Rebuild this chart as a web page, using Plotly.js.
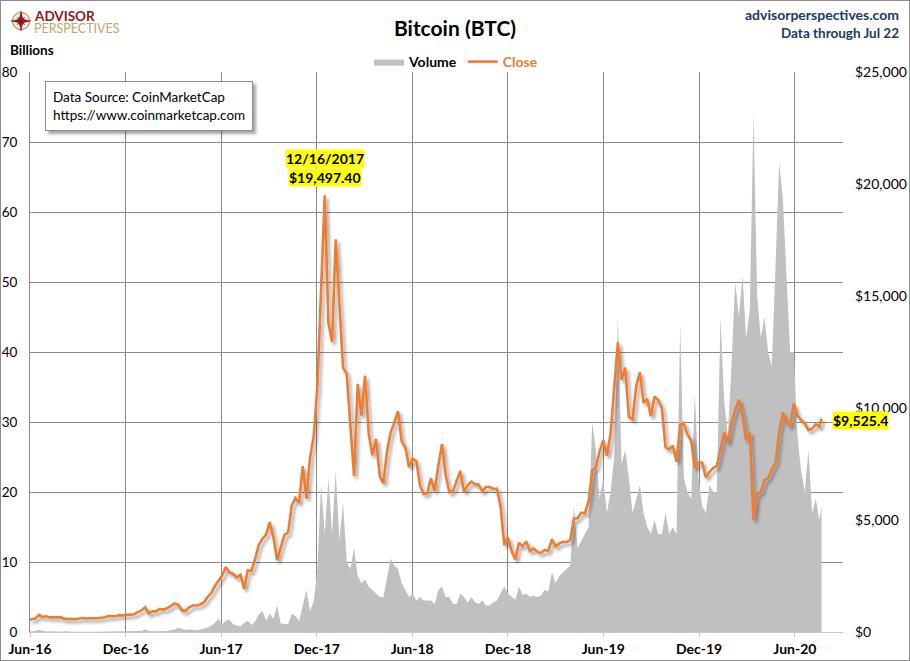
<!DOCTYPE html>
<html>
<head>
<meta charset="utf-8">
<script src="https://cdn.plot.ly/plotly-3.0.1.min.js"></script>
<style>
  html, body { margin: 0; padding: 0; background: #fff; }
  #wrap { position: relative; width: 910px; height: 661px; }
  #chart { width: 910px; height: 661px; }
  #frame { position: absolute; left: 0; top: 0; width: 908px; height: 659px; border: 1px solid #8c8c8c; pointer-events: none; }
</style>
</head>
<body>
<div id="wrap"><div id="chart"></div><div id="frame"></div></div>
<script>
// ---- Data (weekly samples; volume in billions USD, close in USD) ----
const firstDate = '2016-06-01';
const weeklyStart = '2016-06-04';
const weeklyCount = 216;
const lastDate = '2020-07-22';

const close2016 = [537, 573, 606, 766, 665, 703, 651, 664, 655, 655, 587, 585, 581, 570, 600, 623, 606, 603, 613, 619, 638, 657, 716, 704, 705, 751, 735, 765, 774, 790, 891, 963];
const close2017 = [1100, 818, 925, 920, 1033, 1000, 1056, 1151, 1267, 1221, 970, 937, 1099, 1182, 1180, 1231, 1317, 1556, 1726, 2041, 2300, 2518, 2900, 2655, 2590, 2434, 2561, 1929, 2756, 2726, 3252, 3884, 4160, 4352, 4900, 4226, 3200, 3778, 4338, 4439, 5647, 5984, 5777, 7407, 5950, 7790, 8754, 10975, 15500, 19497.4, 13800, 12952];
const close2018 = [17527, 14360, 11800, 11524, 9174, 6955, 11074, 9664, 11440, 8866, 7890, 8618, 6973, 6636, 8058, 8917, 9348, 9858, 8504, 8247, 7355, 7741, 7618, 6545, 6160, 6200, 6857, 6292, 7419, 8400, 7009, 6239, 6300, 6719, 7189, 6251, 6543, 6710, 6601, 6576, 6280, 6475, 6476, 6387, 6404, 5578, 3880, 4214, 3614, 3236, 3982, 3822];
const close2019 = [4037, 3606, 3728, 3583, 3521, 3661, 3618, 4140, 3824, 3943, 4026, 4010, 4105, 5059, 5079, 5331, 5295, 5831, 7208, 7342, 8055, 8553, 7864, 8838, 10701, 12932, 11250, 11800, 9600, 9500, 10978, 11600, 10231, 10408, 9630, 10518, 10362, 9987, 8245, 8147, 8317, 7600, 9244, 9308, 8804, 8550, 7323, 7569, 7564, 6900, 7145, 7317];
const close2020 = [7411, 8184, 8900, 8445, 9345, 9903, 10367, 9686, 8563, 8909, 5000, 6200, 6242, 6776, 6866, 7257, 7550, 8897, 9800, 9384, 9181, 10200, 9665, 9464, 9307, 9009, 9073, 9276, 9170, 9525.4];

const vol2016 = [0.08, 0.09, 0.14, 0.28, 0.12, 0.07, 0.10, 0.06, 0.06, 0.05, 0.12, 0.06, 0.05, 0.05, 0.07, 0.05, 0.05, 0.04, 0.04, 0.05, 0.05, 0.06, 0.10, 0.08, 0.06, 0.09, 0.07, 0.07, 0.07, 0.07, 0.10, 0.15];
const vol2017 = [0.4, 0.15, 0.12, 0.1, 0.15, 0.12, 0.13, 0.3, 0.35, 0.6, 0.4, 0.3, 0.35, 0.3, 0.3, 0.35, 0.45, 0.6, 0.9, 1.3, 1.9, 1.1, 1.6, 1.8, 1.1, 0.9, 0.8, 1.3, 1.6, 1.0, 1.5, 2.5, 3.0, 1.6, 2.6, 1.9, 3.8, 1.2, 1.2, 1.1, 2.6, 2.3, 1.6, 3.8, 6.0, 3.0, 4.4, 9, 21, 14, 22, 14];
const vol2018 = [23, 13, 18.5, 10, 9, 12, 8, 7, 7.5, 6.5, 6, 5.5, 5, 5, 8, 10.5, 9.5, 9, 7, 6, 5, 5.5, 4.5, 5, 4.5, 4.5, 4.5, 4, 6, 6.5, 5, 5, 4, 4, 5.5, 5, 4.2, 5, 4.3, 4, 4.5, 3.8, 3.8, 4.2, 4.5, 5.5, 6.5, 5.5, 5, 4.6, 6.5, 5.3];
const vol2019 = [5.5, 5, 5.2, 5, 5.2, 6, 5.8, 8.5, 7, 8, 8.5, 9, 9.5, 18, 12, 13, 14, 15, 30, 26, 19, 22, 17, 20, 25, 45, 24, 26, 22, 17, 19, 21, 17, 15, 14, 16, 14, 14, 17, 14, 15, 14, 44, 22, 20, 19, 34, 22, 18, 17, 21, 20];
const vol2020 = [20, 45, 33, 28, 38, 50, 45, 51, 42, 46, 74, 48, 42, 45, 40, 38, 52, 67, 62, 52, 40, 40, 28, 23, 20, 26, 17, 19, 16, 18];

const xTickStart = '2016-06-01';
const xRange = ['2016-06-01', '2020-09-01'];
const leftTicks = [0, 10, 20, 30, 40, 50, 60, 70, 80];
const rightTicks = [0, 5000, 10000, 15000, 20000, 25000];
const peakDate = '2017-12-16';
const peakDateLabel = '12/16/2017';
const peakValueLabel = '$19,497.40';
const lastValueLabel = '$9,525.4';

// ---- Build series ----
const dates = [firstDate];
(function () {
  const base = new Date(weeklyStart + 'T00:00:00Z');
  for (let i = 0; i < weeklyCount; i++) {
    const d = new Date(base.getTime() + i * 7 * 86400000);
    dates.push(d.toISOString().slice(0, 10));
  }
  dates.push(lastDate);
})();
const closes = [].concat(close2016, close2017, close2018, close2019, close2020);
const volumes = [].concat(vol2016, vol2017, vol2018, vol2019, vol2020);
const peakValue = Math.max.apply(null, closes);
const lastValue = closes[closes.length - 1];
const rightTickText = rightTicks.map(v => '$' + v.toLocaleString('en-US'));

// ---- Pixel helpers for paper-positioned decorations ----
const L = 30, R = 843, T = 72, B = 632;
const px = x => (x - L) / (R - L);
const py = y => (B - y) / (B - T);

const FONT = 'Lato, "Open Sans", sans-serif';

function starPath(cx, cy, rOut, rIn, n) {
  let d = '';
  for (let k = 0; k < 2 * n; k++) {
    const ang = -Math.PI / 2 + k * Math.PI / n;
    const r = (k % 2 === 0) ? rOut : rIn;
    const X = px(cx + r * Math.cos(ang));
    const Y = py(cy + r * Math.sin(ang));
    d += (k === 0 ? 'M ' : ' L ') + X + ' ' + Y;
  }
  return d + ' Z';
}

const traces = [
  {
    type: 'scatter', mode: 'lines', x: dates, y: volumes, name: '<b>Volume</b>',
    fill: 'tozeroy', fillcolor: '#c0c0c0', line: { width: 0, color: '#c0c0c0' },
    yaxis: 'y', hoverinfo: 'skip'
  },
  {
    type: 'scatter', mode: 'lines', x: dates, y: closes,
    name: '<b><span style="color:#ED7D31">Close</span></b>',
    line: { width: 2.6, color: '#ED7D31' }, yaxis: 'y2', hoverinfo: 'skip'
  }
];

const layout = {
  width: 910, height: 661,
  margin: { l: L, r: 910 - R, t: T, b: 661 - B, pad: 0 },
  paper_bgcolor: '#ffffff', plot_bgcolor: '#ffffff',
  font: { family: FONT, size: 14, color: '#000' },
  title: {
    text: '<b>Bitcoin (BTC)</b>', font: { family: FONT, size: 21, color: '#000' },
    x: 0.5, xanchor: 'center', xref: 'container', y: 1 - 29 / 661, yanchor: 'middle', yref: 'container'
  },
  showlegend: true,
  legend: {
    orientation: 'h', x: px(456), xanchor: 'center', y: py(62), yanchor: 'middle',
    font: { family: FONT, size: 14, color: '#000' }, bgcolor: 'rgba(0,0,0,0)',
    itemwidth: 30, tracegroupgap: 0, traceorder: 'normal'
  },
  xaxis: {
    type: 'date', range: xRange, tick0: xTickStart, dtick: 'M6', tickformat: '%b-%y',
    showgrid: true, gridcolor: '#8a8a8a', gridwidth: 1,
    showline: true, linecolor: '#c8c8c8', linewidth: 1,
    ticks: 'outside', ticklen: 4, tickcolor: '#c8c8c8',
    tickfont: { family: FONT, size: 14, color: '#000', weight: 'bold' },
    zeroline: false, fixedrange: true
  },
  yaxis: {
    range: [0, 80], tickmode: 'array', tickvals: leftTicks, showgrid: true, gridcolor: '#8a8a8a', gridwidth: 1,
    showline: true, linecolor: '#8a8a8a', zeroline: false, ticks: '',
    ticklabelstandoff: 9, tickfont: { family: FONT, size: 13.5, color: '#000' }, fixedrange: true
  },
  yaxis2: {
    range: [0, 25000], tickmode: 'array', tickvals: rightTicks, ticktext: rightTickText,
    overlaying: 'y', side: 'right', showgrid: false, zeroline: false, showline: false, ticks: '',
    ticklabelstandoff: 11, tickfont: { family: FONT, size: 14, color: '#000' }, fixedrange: true
  },
  shapes: [
    { type: 'circle', xref: 'paper', yref: 'paper', x0: px(12.5), x1: px(29.5), y0: py(29.5), y1: py(12.5),
      line: { color: '#C4A467', width: 1.5 }, fillcolor: 'rgba(0,0,0,0)' },
    { type: 'path', xref: 'paper', yref: 'paper', path: starPath(21, 21, 10, 2.6, 4),
      fillcolor: '#8B1A1A', line: { color: '#8B1A1A', width: 0.5 } },
    { type: 'path', xref: 'paper', yref: 'paper', path: starPath(21, 21, 5.5, 2.0, 8),
      fillcolor: '#8B1A1A', line: { color: '#8B1A1A', width: 0.5 } }
  ],
  annotations: [
    { xref: 'paper', yref: 'paper', x: px(32), y: py(15.5), xanchor: 'left', yanchor: 'middle', showarrow: false,
      text: '<b>ADVISOR</b>', font: { family: FONT, size: 13.5, color: '#8B1A1A', weight: 900 } },
    { xref: 'paper', yref: 'paper', x: px(32), y: py(28), xanchor: 'left', yanchor: 'middle', showarrow: false,
      text: 'PERSPECTIVES', font: { family: FONT, size: 12.5, color: '#C4A467', weight: 400 } },
    { xref: 'paper', yref: 'paper', x: px(901), y: py(15), xanchor: 'right', yanchor: 'middle', showarrow: false,
      text: '<b>advisorperspectives.com</b>', font: { family: FONT, size: 14, color: '#203864' } },
    { xref: 'paper', yref: 'paper', x: px(901), y: py(33), xanchor: 'right', yanchor: 'middle', showarrow: false,
      text: '<b>Data through Jul 22</b>', font: { family: FONT, size: 13.5, color: '#203864' } },
    { xref: 'paper', yref: 'paper', x: px(8), y: py(50), xanchor: 'left', yanchor: 'middle', showarrow: false,
      text: '<b>Billions</b>', font: { family: FONT, size: 13.5, color: '#000' } },
    { xref: 'paper', yref: 'paper', x: px(45), y: py(81), xanchor: 'left', yanchor: 'top', showarrow: false,
      align: 'left', text: 'Data Source: CoinMarketCap<br>https://www.coinmarketcap.com',
      font: { family: FONT, size: 13.5, color: '#000' }, bgcolor: '#ffffff',
      bordercolor: '#8c8c8c', borderwidth: 1, borderpad: 7 },
    { xref: 'x', yref: 'y2', x: peakDate, y: peakValue, yshift: 37, xanchor: 'center', yanchor: 'middle',
      showarrow: false, text: '<b>' + peakDateLabel + '</b>', bgcolor: '#ffff00', borderpad: 0,
      font: { family: FONT, size: 14, color: '#000' } },
    { xref: 'x', yref: 'y2', x: peakDate, y: peakValue, yshift: 18, xanchor: 'center', yanchor: 'middle',
      showarrow: false, text: '<b>' + peakValueLabel + '</b>', bgcolor: '#ffff00', borderpad: 0,
      font: { family: FONT, size: 14, color: '#000' } },
    { xref: 'x', yref: 'y2', x: lastDate, y: lastValue, xshift: 10, yshift: -2, xanchor: 'left', yanchor: 'middle',
      showarrow: false, text: '<b>' + lastValueLabel + '</b>', bgcolor: '#ffff00', borderpad: 0,
      font: { family: FONT, size: 14, color: '#000' } }
  ]
};

Plotly.newPlot('chart', traces, layout, { staticPlot: true, displayModeBar: false }).then(function (gd) {
  const svg = gd.querySelector('svg.main-svg');
  const NS = 'http://www.w3.org/2000/svg';
  let defs = svg.querySelector('defs');
  if (!defs) { defs = document.createElementNS(NS, 'defs'); svg.insertBefore(defs, svg.firstChild); }
  function addShadow(id, dx, dy, sd, op) {
    const f = document.createElementNS(NS, 'filter');
    f.setAttribute('id', id);
    f.setAttribute('x', '-10%'); f.setAttribute('y', '-10%');
    f.setAttribute('width', '125%'); f.setAttribute('height', '125%');
    const ds = document.createElementNS(NS, 'feDropShadow');
    ds.setAttribute('dx', dx); ds.setAttribute('dy', dy);
    ds.setAttribute('stdDeviation', sd);
    ds.setAttribute('flood-color', '#000'); ds.setAttribute('flood-opacity', op);
    f.appendChild(ds); defs.appendChild(f);
  }
  addShadow('lineShadow', 2.5, 3, 1.6, 0.35);
  addShadow('boxShadow', 3, 3, 1.5, 0.35);
  const tr = gd.querySelectorAll('.scatterlayer .trace');
  if (tr[1]) {
    const p = tr[1].querySelector('path.js-line');
    if (p) p.setAttribute('filter', 'url(#lineShadow)');
  }
  gd.querySelectorAll('.annotation').forEach(function (a) {
    if (a.textContent.indexOf('Data Source') >= 0) {
      const bg = a.querySelector('rect.bg');
      if (bg) bg.setAttribute('filter', 'url(#boxShadow)');
    }
  });
});
</script>
</body>
</html>
